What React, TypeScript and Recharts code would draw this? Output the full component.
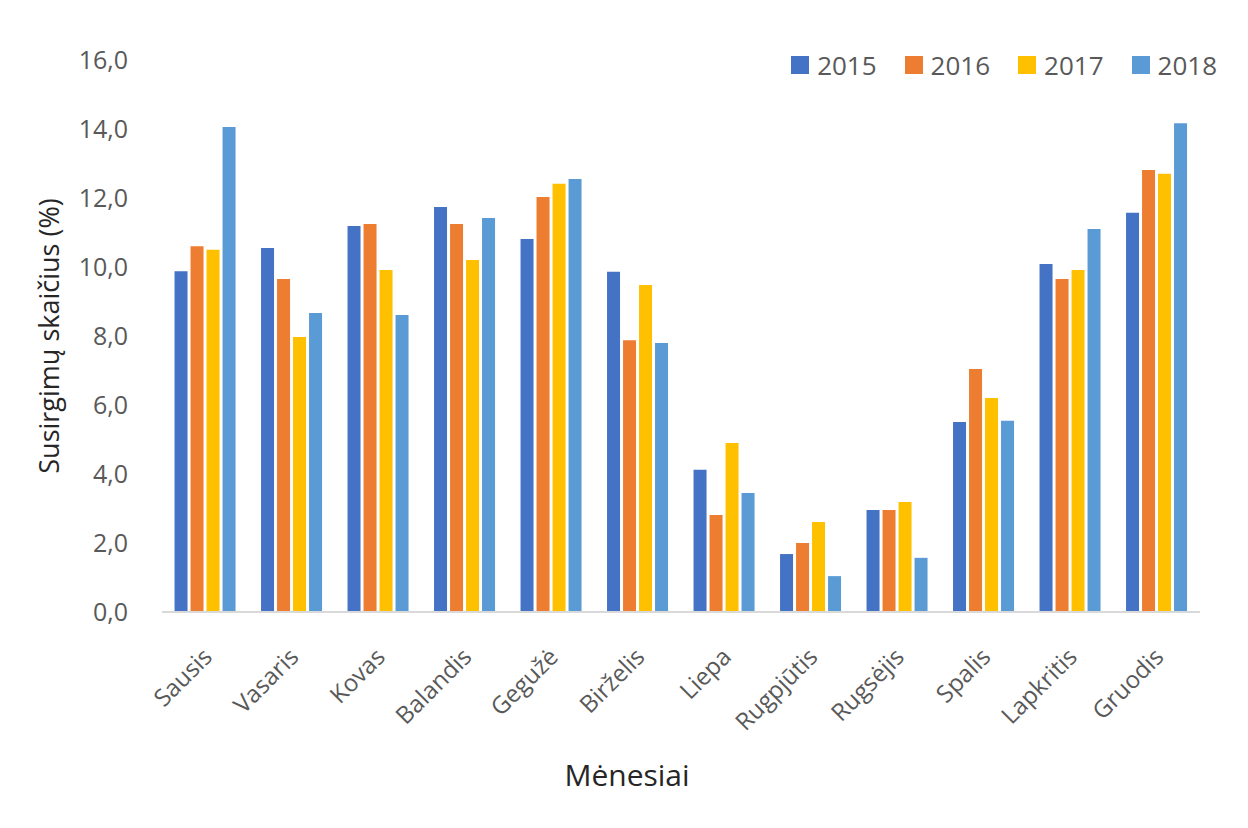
import React from 'react';
import { BarChart, Bar, XAxis, YAxis, Legend, Label } from 'recharts';

const months = ['Sausis','Vasaris','Kovas','Balandis','Gegužė','Birželis','Liepa','Rugpjūtis','Rugsėjis','Spalis','Lapkritis','Gruodis'];
const v2015 = [9.88,10.55,11.19,11.74,10.81,9.86,4.12,1.68,2.96,5.51,10.09,11.57];
const v2016 = [10.6,9.65,11.25,11.25,12.03,7.88,2.81,2.0,2.96,7.04,9.65,12.81];
const v2017 = [10.5,7.97,9.91,10.2,12.41,9.48,4.9,2.61,3.19,6.2,9.91,12.7];
const v2018 = [14.06,8.67,8.61,11.42,12.55,7.8,3.45,1.04,1.57,5.54,11.1,14.17];
const yTicks = [0,2,4,6,8,10,12,14,16];
const seriesNames = ['2015','2016','2017','2018'];
const colors = ['#4472C4','#ED7D31','#FFC000','#5B9BD5'];

const data = months.map((m, i) => ({ month: m, '2015': v2015[i], '2016': v2016[i], '2017': v2017[i], '2018': v2018[i] }));

const FONT = '"Open Sans", sans-serif';
const TEXT = '#595959';

const XTick = (props: any) => {
  const { x, y, payload } = props;
  return (
    <g transform={`translate(${x + 2},${y + 32})`}>
      <text textAnchor="end" transform="rotate(-45)" fontSize={24} fill={TEXT} fontFamily={FONT} dy={9}>
        {payload.value}
      </text>
    </g>
  );
};

const LegendContent = () => (
  <div style={{ display: 'flex', fontFamily: FONT, fontSize: 26, color: TEXT, lineHeight: '36px' }}>
    {seriesNames.map((n, i) => (
      <div key={n} style={{ display: 'flex', alignItems: 'center', marginLeft: i ? 28 : 0 }}>
        <span style={{ width: 18, height: 18, background: colors[i], display: 'inline-block', marginRight: 8 }} />
        <span>{n}</span>
      </div>
    ))}
  </div>
);

export default function App() {
  return (
    <div style={{ position: 'absolute', left: 0, top: 0, background: '#fff' }}>
      <BarChart width={1248} height={828} data={data} margin={{ top: 24, right: 48, bottom: 0, left: 0 }}
        barCategoryGap="14.5%" barGap={3}>
        <XAxis dataKey="month" interval={0} tick={<XTick />} tickLine={false}
          axisLine={{ stroke: '#d9d9d9', strokeWidth: 2 }} height={216}>
          <Label value="Mėnesiai" position="insideBottom" offset={42} dx={-54} fontSize={30} fill="#262626" fontFamily={FONT} />
        </XAxis>
        <YAxis width={162} domain={[0, 16]} ticks={yTicks} tickLine={false} axisLine={false}
          tickFormatter={(v: number) => v.toFixed(1).replace('.', ',')}
          tick={{ fontSize: 25, fill: TEXT, fontFamily: FONT }} tickMargin={28}>
          <Label value="Susirgimų skaičius (%)" angle={-90} position="insideLeft" offset={49}
            style={{ textAnchor: 'middle' }} fontSize={27} fill="#262626" fontFamily={FONT} />
        </YAxis>
        <Legend verticalAlign="top" align="right" content={<LegendContent />}
          wrapperStyle={{ top: 47, right: 31, left: 'auto', width: 'auto' }} />
        {seriesNames.map((n, i) => (
          <Bar key={n} dataKey={n} fill={colors[i]} isAnimationActive={false} />
        ))}
      </BarChart>
    </div>
  );
}
